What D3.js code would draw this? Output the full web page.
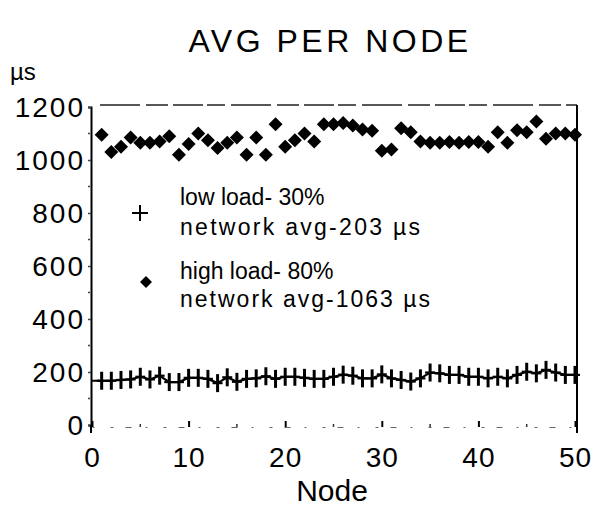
<!DOCTYPE html>
<html><head><meta charset="utf-8">
<script src="https://cdn.jsdelivr.net/npm/d3@7"></script>
<style>
body{margin:0;background:#fff;}
text{font-family:"Liberation Sans",Arial,Helvetica,sans-serif;fill:#000;}
</style></head>
<body><svg id="chart" width="610" height="511"></svg>
<script>
const nodes = d3.range(1, 51);
const highLoad = [1095,1030,1050,1085,1065,1065,1070,1090,1020,1060,
                  1100,1075,1045,1065,1085,1020,1085,1020,1135,1050,
                  1075,1100,1070,1135,1135,1140,1130,1115,1110,1035,
                  1040,1120,1105,1070,1065,1065,1068,1065,1068,1068,
                  1050,1105,1065,1112,1105,1145,1080,1100,1100,1095];
const lowLoad = [167,167,170,172,182,172,186,162,162,178,
                 178,174,158,180,163,174,176,184,174,182,
                 182,178,174,174,182,190,186,176,176,191,
                 176,170,164,176,198,195,189,189,182,182,
                 176,182,176,189,201,195,208,198,189,189];
const yTicks = [0,200,400,600,800,1000,1200];
const xTicks = [0,10,20,30,40,50];
const title = "AVG PER NODE";
const yUnit = "µs";
const xTitle = "Node";
const legendLow = ["low load- 30%", "network  avg-203 µs"];
const legendHigh = ["high load- 80%", "network avg-1063 µs"];

const svg = d3.select("#chart");
const x = d3.scaleLinear().domain([0,50]).range([92,575]);
const y = d3.scaleLinear().domain([0,1200]).range([425,107]);

// title
svg.append("text").attr("x",330).attr("y",52).attr("text-anchor","middle")
  .attr("font-size",32).attr("letter-spacing",3.5).text(title);
svg.append("text").attr("x",10).attr("y",80).attr("font-size",24).text(yUnit);
svg.append("text").attr("x",332).attr("y",501).attr("text-anchor","middle")
  .attr("font-size",30).text(xTitle);

// frame top and right
svg.append("line").attr("x1",100).attr("x2",x(50)+2).attr("y1",y(1200)-2).attr("y2",y(1200)-2)
  .attr("stroke","#222").attr("stroke-width",1.5).attr("stroke-dasharray","40,6,22,5,30,4,18,6");
svg.append("line").attr("x1",x(50)+2).attr("x2",x(50)+2).attr("y1",y(1200)-2).attr("y2",y(0)+8)
  .attr("stroke","#000").attr("stroke-width",2);

// y axis
const ya = svg.append("g").attr("transform","translate(91,0)")
  .call(d3.axisLeft(y).tickValues(yTicks).tickSize(3).tickPadding(3).tickFormat(d3.format("d")));
ya.select(".domain").attr("stroke","#000").attr("stroke-width",2);
ya.selectAll(".tick line").attr("stroke","#444").attr("stroke-width",1.5);
ya.selectAll(".tick text").attr("font-size",28).attr("letter-spacing",2)
  .attr("font-family","Liberation Sans, Arial, sans-serif").attr("fill","#000").attr("dy","0.35em");
svg.append("g").selectAll("line").data(d3.range(100,1200,200)).join("line")
  .attr("x1",88).attr("x2",90).attr("y1",d=>y(d)).attr("y2",d=>y(d))
  .attr("stroke","#444").attr("stroke-width",1.5);
svg.append("line").attr("x1",91).attr("x2",91).attr("y1",y(0)).attr("y2",y(0)+8)
  .attr("stroke","#000").attr("stroke-width",2);

// x axis
const xa = svg.append("g").attr("transform",`translate(0,${y(0)+2})`)
  .call(d3.axisBottom(x).tickValues(xTicks).tickSizeInner(-6).tickSizeOuter(0).tickPadding(20));
xa.select(".domain").attr("stroke","#666").attr("stroke-width",1.2).attr("stroke-dasharray","2,16,3,12,6,14");
xa.selectAll(".tick line").attr("stroke","#000").attr("stroke-width",2);
xa.selectAll(".tick text").attr("font-size",28).attr("letter-spacing",1)
  .attr("font-family","Liberation Sans, Arial, sans-serif").attr("fill","#000");
svg.append("g").selectAll("line").data(d3.range(5,50,5).filter(d=>d%10!==0)).join("line")
  .attr("x1",d=>x(d)).attr("x2",d=>x(d)).attr("y1",y(0)-1).attr("y2",y(0)+2)
  .attr("stroke","#333").attr("stroke-width",1.5);

// low load series: line + plus marks
const lowData = nodes.map((n,i)=>({n, v: lowLoad[i]}));
svg.append("path").datum([{n:0,v:lowLoad[0]}].concat(lowData))
  .attr("d", d3.line().x(d=>x(d.n)).y(d=>y(d.v)))
  .attr("fill","none").attr("stroke","#000").attr("stroke-width",2.2);
const plus = svg.append("g").selectAll("g").data(lowData).join("g")
  .attr("transform", d=>`translate(${x(d.n)},${y(d.v)})`);
plus.append("line").attr("x1",0).attr("x2",0).attr("y1",-9).attr("y2",9)
  .attr("stroke","#000").attr("stroke-width",3);
plus.append("line").attr("x1",-5).attr("x2",5).attr("y1",0).attr("y2",0)
  .attr("stroke","#000").attr("stroke-width",2.2);

// high load series: diamonds
const diamond = "M0,-7L7,0L0,7L-7,0Z";
svg.append("g").selectAll("path").data(nodes.map((n,i)=>({n, v: highLoad[i]}))).join("path")
  .attr("d", diamond).attr("transform", d=>`translate(${x(d.n)},${y(d.v)})`)
  .attr("fill","#000");

// legend
const lg = svg.append("g");
lg.append("line").attr("x1",132).attr("x2",148).attr("y1",213).attr("y2",213).attr("stroke","#000").attr("stroke-width",2);
lg.append("line").attr("x1",140).attr("x2",140).attr("y1",205).attr("y2",221).attr("stroke","#000").attr("stroke-width",2);
lg.append("path").attr("d","M0,-6L6,0L0,6L-6,0Z").attr("transform","translate(146,282)").attr("fill","#000");
lg.selectAll("text.low").data(legendLow).join("text").attr("class","low")
  .attr("x",180).attr("y",(d,i)=>205+i*30).attr("font-size",23)
  .attr("textLength",(d,i)=>i===1?240:null).attr("lengthAdjust","spacing").text(d=>d);
lg.selectAll("text.high").data(legendHigh).join("text").attr("class","high")
  .attr("x",180).attr("y",(d,i)=>279+i*28).attr("font-size",23)
  .attr("textLength",(d,i)=>i===1?250:null).attr("lengthAdjust","spacing").text(d=>d);
</script></body></html>
